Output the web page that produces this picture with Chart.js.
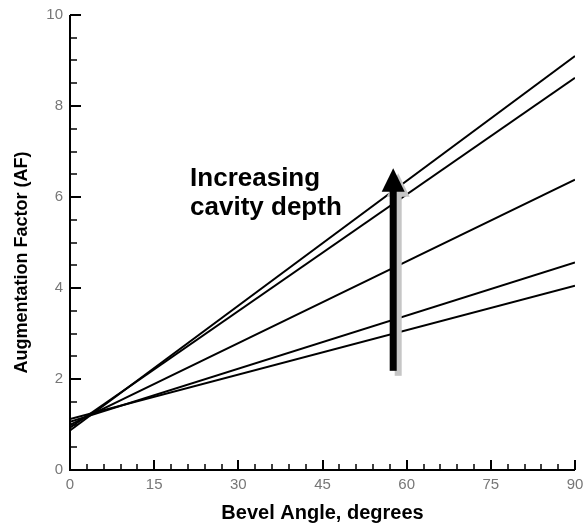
<!DOCTYPE html>
<html>
<head>
<meta charset="utf-8">
<script src="https://cdn.jsdelivr.net/npm/chart.js@4.4.1/dist/chart.umd.min.js"></script>
<style>
  html, body { margin: 0; padding: 0; background: #fff; }
  canvas { display: block; }
</style>
</head>
<body>
<canvas id="afChart" width="586" height="527"></canvas>
<script>
// bevel angle (degrees) at the two ends of each line
const bevelAngles = [0, 90];

// augmentation factor, shallowest cavity first
const afDepth1 = [1.12, 4.05];
const afDepth2 = [1.06, 4.56];
const afDepth3 = [0.99, 6.38];
const afDepth4 = [0.93, 8.62];
const afDepth5 = [0.87, 9.10];

const xMajorTicks = [0, 15, 30, 45, 60, 75, 90];
const yMajorTicks = [0, 2, 4, 6, 8, 10];

const yTitle = "Augmentation Factor (AF)";
const noteLines = ["Increasing", "cavity depth"];

// arrow annotation, in data units
const arrowAngle = 57.6;
const arrowFrom = 2.18;
const arrowTo = 6.63;
const noteAngle = 21.4;
const noteAF = 6.24;

const FONT = '"Liberation Sans", Arial, Helvetica, sans-serif';

function toPoints(values) {
  return values.map((v, i) => ({ x: bevelAngles[i], y: v }));
}

const lineStyle = {
  borderColor: "#000",
  borderWidth: 2,
  pointRadius: 0,
  tension: 0,
  fill: false
};

const axisFrame = {
  id: "axisFrame",
  afterDraw(chart) {
    const { ctx, scales: { x, y } } = chart;
    const left = Math.round(x.getPixelForValue(0));
    const right = Math.round(x.getPixelForValue(90));
    const bottom = Math.round(y.getPixelForValue(0));
    const top = Math.round(y.getPixelForValue(10));
    ctx.save();
    ctx.strokeStyle = "#000";

    // axis lines
    ctx.lineWidth = 2;
    ctx.beginPath();
    ctx.moveTo(left, top);
    ctx.lineTo(left, bottom);
    ctx.lineTo(right, bottom);
    ctx.stroke();

    // inward ticks
    y.ticks.forEach(t => {
      const py = Math.round(y.getPixelForValue(t.value));
      const major = yMajorTicks.includes(t.value);
      ctx.lineWidth = major ? 2 : 1.5;
      ctx.beginPath();
      ctx.moveTo(left, py);
      ctx.lineTo(left + (major ? 11 : 7), py);
      ctx.stroke();
    });
    x.ticks.forEach(t => {
      const px = Math.round(x.getPixelForValue(t.value));
      const major = xMajorTicks.includes(t.value);
      ctx.lineWidth = major ? 2 : 1.5;
      ctx.beginPath();
      ctx.moveTo(px, bottom);
      ctx.lineTo(px, bottom - (major ? 10 : 6));
      ctx.stroke();
    });

    // y axis title, sits a little below the middle of the axis
    ctx.fillStyle = "#000";
    ctx.font = "bold 18px " + FONT;
    ctx.textAlign = "center";
    ctx.textBaseline = "middle";
    ctx.save();
    ctx.translate(22, (top + bottom) / 2 + 20);
    ctx.rotate(-Math.PI / 2);
    ctx.fillText(yTitle, 0, 0);
    ctx.restore();

    // arrow with grey drop shadow
    const ax = x.getPixelForValue(arrowAngle);
    const yb = y.getPixelForValue(arrowFrom);
    const yt = y.getPixelForValue(arrowTo);
    const headH = 23.5;
    const headW = 11.5;
    function arrow(dx, dy, color) {
      ctx.fillStyle = color;
      ctx.fillRect(ax - 3.5 + dx, yt + headH - 1 + dy, 7, yb - yt - headH + 1);
      ctx.beginPath();
      ctx.moveTo(ax + dx, yt + dy);
      ctx.lineTo(ax + headW + dx, yt + headH + dy);
      ctx.lineTo(ax - headW + dx, yt + headH + dy);
      ctx.closePath();
      ctx.fill();
    }
    arrow(5, 5, "#c6c6c6");
    arrow(0, 0, "#000");

    // note text
    ctx.fillStyle = "#000";
    ctx.font = "bold 26px " + FONT;
    ctx.textBaseline = "alphabetic";
    ctx.textAlign = "left";
    const nx = x.getPixelForValue(noteAngle);
    const ny = y.getPixelForValue(noteAF);
    noteLines.forEach((line, i) => ctx.fillText(line, nx, ny + i * 29));
    ctx.restore();
  }
};

new Chart(document.getElementById("afChart"), {
  type: "line",
  data: {
    datasets: [
      Object.assign({ label: "depth 1", data: toPoints(afDepth1) }, lineStyle),
      Object.assign({ label: "depth 2", data: toPoints(afDepth2) }, lineStyle),
      Object.assign({ label: "depth 3", data: toPoints(afDepth3) }, lineStyle),
      Object.assign({ label: "depth 4", data: toPoints(afDepth4) }, lineStyle),
      Object.assign({ label: "depth 5", data: toPoints(afDepth5) }, lineStyle)
    ]
  },
  options: {
    responsive: false,
    animation: false,
    layout: { padding: { top: 15, right: 11, left: 0, bottom: 0 } },
    plugins: {
      legend: { display: false },
      tooltip: { enabled: false }
    },
    scales: {
      x: {
        type: "linear",
        min: 0,
        max: 90,
        afterFit(scale) {
          scale.height = 57;
          scale.paddingLeft = 0;
          scale.paddingRight = 0;
        },
        grid: { display: false, drawTicks: false },
        border: { display: false },
        ticks: {
          stepSize: 3,
          autoSkip: false,
          maxTicksLimit: 100,
          maxRotation: 0,
          padding: 6,
          color: "#777",
          font: { family: FONT, size: 15 },
          callback: v => (xMajorTicks.includes(v) ? String(v) : "")
        },
        title: {
          display: true,
          text: "Bevel Angle, degrees",
          color: "#000",
          padding: { top: 0, bottom: 2 },
          font: { family: FONT, size: 20, weight: "bold" }
        }
      },
      y: {
        type: "linear",
        min: 0,
        max: 10,
        afterFit(scale) {
          scale.width = 70;
          scale.paddingTop = 0;
          scale.paddingBottom = 0;
        },
        grid: { display: false, drawTicks: false },
        border: { display: false },
        ticks: {
          stepSize: 0.5,
          autoSkip: false,
          maxTicksLimit: 100,
          padding: 7,
          color: "#777",
          font: { family: FONT, size: 15 },
          callback: v => (yMajorTicks.includes(v) ? String(v) : "")
        },
        title: { display: false }
      }
    }
  },
  plugins: [axisFrame]
});
</script>
</body>
</html>
